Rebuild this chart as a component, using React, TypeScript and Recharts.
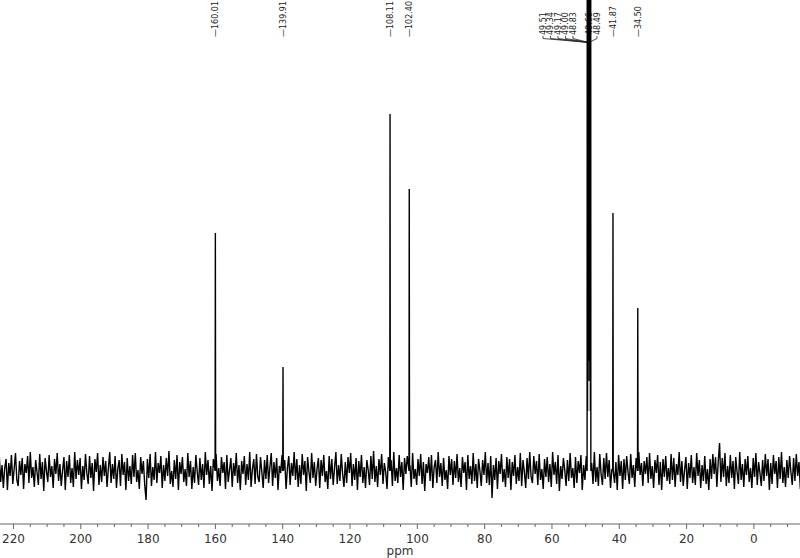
import React from "react";
import { Line, LineChart, ReferenceLine, XAxis, YAxis } from "recharts";

// 13C spectrum, values (intensity in px above baseline)
const peakPpm = [160.01, 139.91, 108.11, 102.4, 41.87, 34.5];
const peakHeight = [238, 104, 357, 282, 258, 163];
const peakLabels = ["160.01", "139.91", "108.11", "102.40", "41.87", "34.50"];

// CD3OD septet, runs off the top of the plot
const solventPpm = [49.51, 49.34, 49.17, 49.0, 48.83, 48.66, 48.49];
const solventHeight = [600, 1500, 2800, 3300, 2800, 1500, 600];
const solventDip = [60, 90, 110, 110, 90, 60];
const solventLabels = ["49.51", "49.34", "49.17", "49.00", "48.83", "48.66", "48.49"];

// baseline noise sampled every 0.4 ppm from 224.2 ppm downwards
const noiseStart = 224.2;
const noiseStep = 0.4;
const noise = [
  14, -11, 6, -17, 3, 12, -19, 8, -5, 16, -13, 2, 18, -9, -15, 10, -4, 13, -18, 7,
  -2, 15, -12, 19, -7, 4, -16, 11, -1, -14, 17, -8, 9, -20, 13, 0, -11, 16, -6, 5,
  -17, 12, -3, 18, -10, 7, -15, 1, 14, -19, 10, -6, 16, -12, 3, -16, 19, -8, 11, -4,
  13, -18, 5, -9, 17, -2, -13, 15, -7, 8, -20, 12, -1, 18, -14, 6, -11, 14, -5, 10,
  -16, 3, 19, -12, 7, -8, 15, -17, 2, 11, -15, 17, -4, 9, -19, 13, -10, 5, -13, 16,
  -6, 18, -11, 1, -18, 14, -3, 10, -14, -29, 12, -7, 17, -15, 4, -9, 19, -12, 8, -2,
  15, -17, 6, -10, 13, -5, 20, -13, 0, -16, 11, -8, 16, -19, 9, -3, 14, -11, 2, -15,
  18, -6, 10, -18, 4, -12, 16, -1, -14, 13, -9, 7, -17, 19, -4, 11, -13, 5, -20, 12,
  -7, 17, -10, 3, -15, 14, -2, 9, -18, 16, -11, 1, 13, -16, 8, -5, 18, -12, 6, -19,
  10, -3, 15, -14, 7, -9, 19, -16, 2, 12, -13, 17, -6, -11, 14, -1, -17, 11, -8, 16,
  -12, 4, 18, -15, 9, -7, 13, -19, 5, -2, 16, -10, 11, -18, 3, 15, -14, 8, -5, 19,
  -9, 12, -16, 6, -13, 17, -4, 10, -20, 14, -1, -12, 18, -7, 9, -15, 2, 13, -17, 11,
  -5, 16, -11, 0, -18, 15, -8, 12, -14, 3, 19, -13, 6, -10, 17, -3, -16, 9, -12, 14,
  -2, 18, -15, 7, -9, 13, -19, 10, -6, 16, -12, 4, -17, 11, 1, -14, 15, -8, 20, -11,
  5, -16, 12, -4, 17, -13, 8, -1, -18, 14, -7, 11, -15, 19, -10, 3, -12, 16, -6, 9,
  -19, 13, -3, 15, -11, 6, -16, 18, -8, 2, -14, 12, -5, 17, -13, 9, -20, 7, -2, 14,
  -10, 16, -17, 4, 11, -12, 19, -6, 8, -15, 13, -9, 1, -18, 15, -4, 12, -14, 10, -7,
  17, -11, 3, -16, 14, -2, 9, -19, 16, -8, 5, -13, 18, -10, 7, -17, 12, 0, -15, 11,
  -4, 19, -12, 8, -14, 15, -27, 6, -9, 13, -18, 10, -3, 17, -11, 2, -16, 14, -7, 12,
  -19, 9, -5, 16, -13, 4, -10, 18, -15, 11, -1, -17, 13, -8, 19, -6, -12, 15, -3, 10,
  -14, 17, -9, 2, -18, 12, -6, 14, -11, 7, -16, 19, -4, 9, -13, 16, -20, 5, -8, 13,
  1, -15, 11, -10, 18, -7, 3, -17, 14, -12, 10, -2, 16, -19, 6, -9, 15, -5, 12, -16,
  8, -13, 19, -11, 4, -15, 17, -3, -14, 13, -8, 18, -6, 11, -17, 2, 14, -12, 9, -19,
  16, -5, 10, -18, 12, -9, 15, -1, -13, 17, -7, 6, -16, 13, -11, 19, -4, 8, -15, 10,
  -3, 14, -12, 18, -8, 5, -17, 11, -2, 16, -14, 9, -19, 12, -6, 15, -10, 3, -13, 17,
  -9, 13, -16, 7, -4, 19, -11, 10, -15, 1, 14, -18, 8, -7, 16, -12, 4, -14, 18, -5,
  11, -17, 6, -10, 15, -13, 2, -19, 12, -8, 17, -3, 14, -16, 9, 28, -11, 13, -6, 18,
  -15, 5, -12, 16, -7, 10, -18, 14, -1, -13, 19, -9, 7, -16, 12, -4, 15, -11, 3, -17,
  13, -6, 18, -14, 9, -2, -15, 11, -10, 17, -5, 12, -19, 8, -13, 16, -3, 10, -17, 14,
  -8, 19, -12, 4, -16, 11, -7, 15, -1, -14, 13, -10, 17, -5, 9, -18, 12, -4, 16, -11,
];

const xTicks: number[] = [];
for (let t = -10; t <= 220; t += 5) xTicks.push(t);

const nearPeak = (ppm: number) =>
  peakPpm.some((p) => Math.abs(p - ppm) < 0.2) || (ppm > 48.3 && ppm < 49.7);

const data: { ppm: number; v: number }[] = [];
noise.forEach((v, i) => {
  const ppm = noiseStart - i * noiseStep;
  if (!nearPeak(ppm)) data.push({ ppm, v });
});
peakPpm.forEach((p, k) => {
  data.push({ ppm: p + 0.08, v: 0 }, { ppm: p, v: peakHeight[k] }, { ppm: p - 0.08, v: 0 });
});
data.push({ ppm: solventPpm[0] + 0.05, v: 0 });
solventPpm.forEach((p, k) => {
  data.push({ ppm: p, v: solventHeight[k] });
  if (k < solventDip.length) data.push({ ppm: (p + solventPpm[k + 1]) / 2, v: solventDip[k] });
});
data.push({ ppm: solventPpm[solventPpm.length - 1] - 0.05, v: 0 });
data.sort((a, b) => b.ppm - a.ppm);

const labelFont = "DejaVu Sans";

const AxisTick = (props: any) => {
  const { x, y, payload } = props;
  const major = payload.value % 20 === 0;
  return (
    <g>
      <line x1={x} x2={x} y1={y} y2={y + (major ? 5 : 3)} stroke="#666" />
      {major && (
        <text x={x} y={y + 19} textAnchor="middle" fontSize={12} fill="#333" fontFamily={labelFont}>
          {payload.value}
        </text>
      )}
    </g>
  );
};

const PeakLabel = (props: any) => {
  const x = props.viewBox.x;
  return (
    <text
      transform={`translate(${x + 3},37) rotate(-90)`}
      fontSize={8}
      fill="#222"
      fontFamily={labelFont}
    >
      {"—" + props.text}
    </text>
  );
};

const fanOffsets = [-46, -38.5, -31, -23.5, -16, 0, 8];

const SolventLabel = (props: any) => {
  const px = props.viewBox.x;
  return (
    <g>
      {solventLabels.map((t, k) => {
        const lx = px + fanOffsets[k];
        return (
          <g key={t}>
            <text
              transform={`translate(${lx + 3},35) rotate(-90)`}
              fontSize={8}
              fill="#222"
              fontFamily={labelFont}
            >
              {t}
            </text>
            <polyline
              points={`${lx},36 ${lx},38.5 ${px},42.5`}
              fill="none"
              stroke="#222"
              strokeWidth={0.8}
            />
          </g>
        );
      })}
    </g>
  );
};

export default function App() {
  return (
    <div style={{ position: "absolute", left: 0, top: 0, width: 800, height: 558, background: "#fff" }}>
      <LineChart width={800} height={558} data={data} margin={{ top: 0, right: 0, bottom: 0, left: 0 }}>
        <XAxis
          type="number"
          dataKey="ppm"
          domain={[-13.7, 224]}
          reversed
          allowDataOverflow
          ticks={xTicks}
          interval={0}
          height={34}
          tickSize={0}
          tickMargin={0}
          tick={<AxisTick />}
          stroke="#666"
          label={{ value: "ppm", position: "insideBottom", offset: 3, fontSize: 12, fill: "#333", fontFamily: labelFont }}
        />
        <YAxis hide domain={[-53, 471]} allowDataOverflow />
        {peakPpm.map((p, k) => (
          <ReferenceLine key={p} x={p} stroke="none" label={<PeakLabel text={peakLabels[k]} />} />
        ))}
        <ReferenceLine x={solventPpm[3]} stroke="none" label={<SolventLabel />} />
        <Line
          type="linear"
          dataKey="v"
          stroke="#000"
          strokeWidth={1.4}
          strokeLinejoin="miter"
          dot={false}
          isAnimationActive={false}
        />
      </LineChart>
    </div>
  );
}
